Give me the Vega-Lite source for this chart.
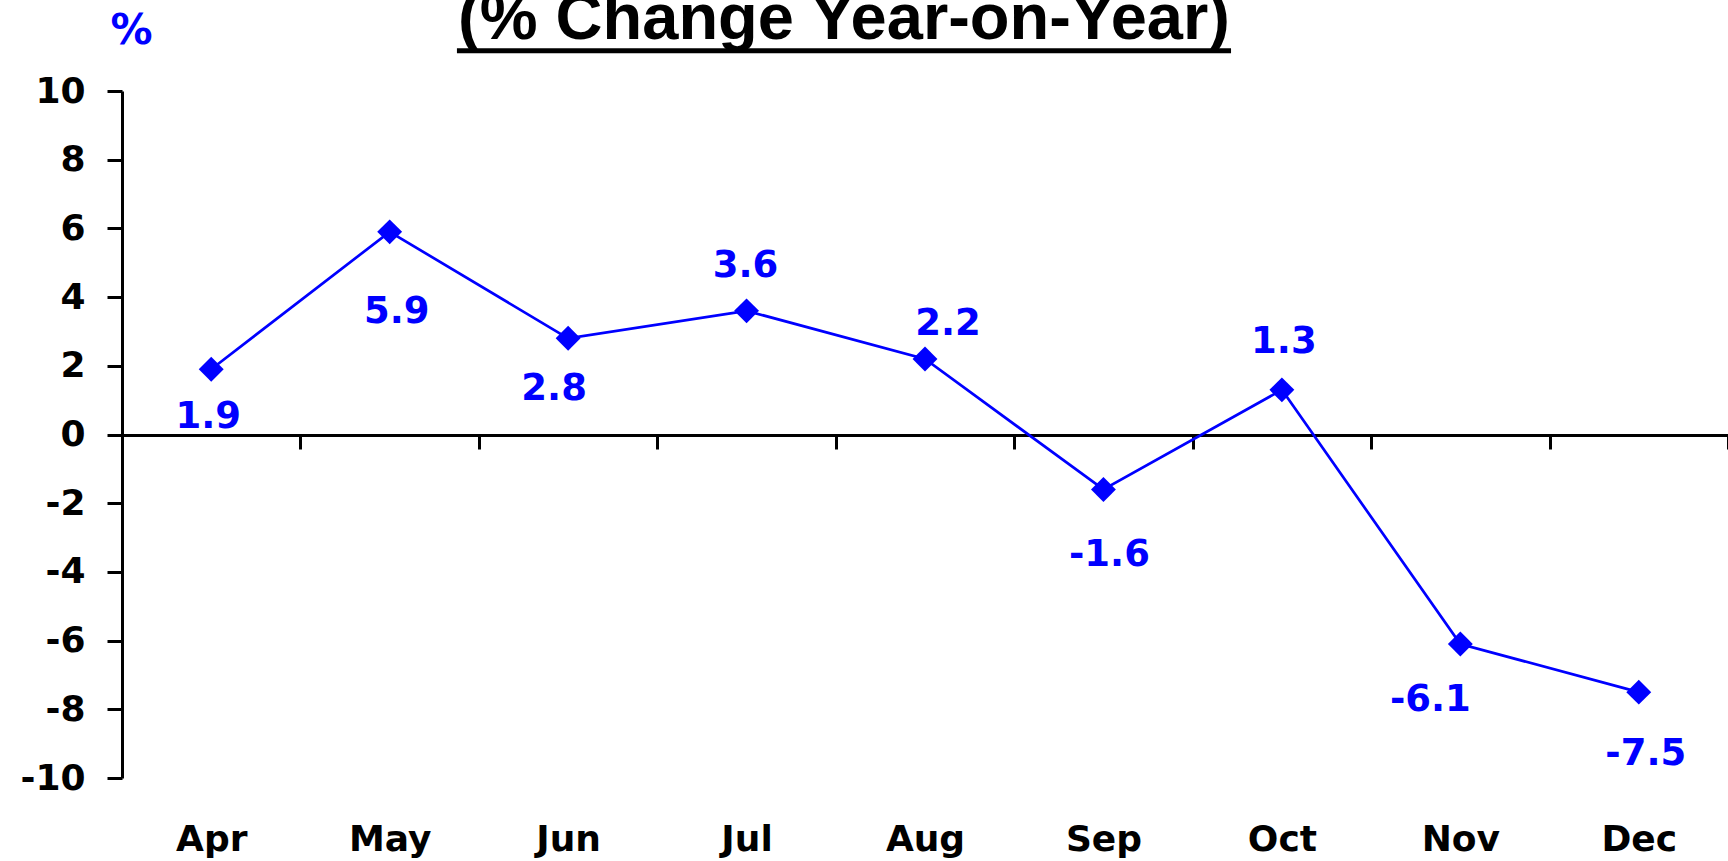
{
  "$schema": "https://vega.github.io/schema/vega-lite/v6.json",
  "width": 1606,
  "height": 687,
  "autosize": {"type": "none"},
  "padding": {"left": 122, "top": 91, "right": 0, "bottom": 83},
  "background": "white",
  "title": {
    "text": "(% Change Year-on-Year)",
    "font": "Liberation Sans",
    "fontSize": 65,
    "fontWeight": "bold",
    "color": "black",
    "anchor": "middle",
    "frame": "group",
    "baseline": "alphabetic",
    "dx": -81,
    "offset": -95
  },
  "layer": [
    {
      "data": {
        "values": [
          {"month": "Apr", "value": 1.9},
          {"month": "May", "value": 5.9},
          {"month": "Jun", "value": 2.8},
          {"month": "Jul", "value": 3.6},
          {"month": "Aug", "value": 2.2},
          {"month": "Sep", "value": -1.6},
          {"month": "Oct", "value": 1.3},
          {"month": "Nov", "value": -6.1},
          {"month": "Dec", "value": -7.5}
        ]
      },
      "encoding": {
        "x": {
          "field": "month",
          "type": "ordinal",
          "sort": null,
          "scale": {"paddingInner": 0, "paddingOuter": 0},
          "axis": {
            "title": null,
            "orient": "bottom",
            "offset": -343,
            "grid": false,
            "domainColor": "black",
            "domainWidth": 3,
            "tickBand": "extent",
            "tickColor": "black",
            "tickWidth": 3,
            "tickSize": 14,
            "labelFont": "DejaVu Sans",
            "labelFontSize": 36,
            "labelFontWeight": "bold",
            "labelColor": "black",
            "labelPadding": 401,
            "labelBaseline": "alphabetic",
            "labelAngle": 0
          }
        },
        "y": {
          "field": "value",
          "type": "quantitative",
          "scale": {"domain": [-10, 10], "nice": false, "zero": false},
          "axis": {
            "title": "%",
            "titleAngle": 0,
            "titleX": 9,
            "titleY": -48,
            "titleAlign": "center",
            "titleBaseline": "alphabetic",
            "titleFont": "DejaVu Sans",
            "titleFontSize": 42,
            "titleFontWeight": "bold",
            "titleColor": "#0000ff",
            "values": [-10, -8, -6, -4, -2, 0, 2, 4, 6, 8, 10],
            "grid": false,
            "domainColor": "black",
            "domainWidth": 3,
            "tickColor": "black",
            "tickWidth": 3,
            "tickSize": 15,
            "labelFont": "DejaVu Sans",
            "labelFontSize": 36,
            "labelFontWeight": "bold",
            "labelColor": "black",
            "labelPadding": 22
          }
        }
      },
      "layer": [
        {"mark": {"type": "line", "color": "#0000ff", "strokeWidth": 2.7}},
        {"mark": {"type": "point", "shape": "diamond", "filled": true, "size": 620, "color": "#0000ff", "opacity": 1}},
        {"transform": [{"filter": {"field": "month", "equal": "Apr"}}], "mark": {"type": "text", "dx": -3, "dy": 59}, "encoding": {"text": {"field": "value", "type": "quantitative", "format": ".1f"}}},
        {"transform": [{"filter": {"field": "month", "equal": "May"}}], "mark": {"type": "text", "dx": 7, "dy": 91}, "encoding": {"text": {"field": "value", "type": "quantitative", "format": ".1f"}}},
        {"transform": [{"filter": {"field": "month", "equal": "Jun"}}], "mark": {"type": "text", "dx": -14, "dy": 62}, "encoding": {"text": {"field": "value", "type": "quantitative", "format": ".1f"}}},
        {"transform": [{"filter": {"field": "month", "equal": "Jul"}}], "mark": {"type": "text", "dx": -1, "dy": -34}, "encoding": {"text": {"field": "value", "type": "quantitative", "format": ".1f"}}},
        {"transform": [{"filter": {"field": "month", "equal": "Aug"}}], "mark": {"type": "text", "dx": 23, "dy": -24}, "encoding": {"text": {"field": "value", "type": "quantitative", "format": ".1f"}}},
        {"transform": [{"filter": {"field": "month", "equal": "Sep"}}], "mark": {"type": "text", "dx": 6, "dy": 77}, "encoding": {"text": {"field": "value", "type": "quantitative", "format": ".1f"}}},
        {"transform": [{"filter": {"field": "month", "equal": "Oct"}}], "mark": {"type": "text", "dx": 2, "dy": -37}, "encoding": {"text": {"field": "value", "type": "quantitative", "format": ".1f"}}},
        {"transform": [{"filter": {"field": "month", "equal": "Nov"}}], "mark": {"type": "text", "dx": -30, "dy": 67}, "encoding": {"text": {"field": "value", "type": "quantitative", "format": ".1f"}}},
        {"transform": [{"filter": {"field": "month", "equal": "Dec"}}], "mark": {"type": "text", "dx": 7, "dy": 73}, "encoding": {"text": {"field": "value", "type": "quantitative", "format": ".1f"}}}
      ]
    },
    {
      "data": {"values": [{"note": "title underline"}]},
      "mark": {"type": "rule", "color": "black", "strokeWidth": 5, "clip": false},
      "encoding": {
        "x": {"datum": 1.877, "type": "quantitative", "scale": {"domain": [0, 9], "nice": false, "zero": false}, "axis": null},
        "x2": {"datum": 6.215},
        "y": {"datum": 11.17, "type": "quantitative"}
      }
    }
  ],
  "resolve": {"scale": {"x": "independent"}},
  "config": {
    "view": {"stroke": null},
    "locale": {"number": {"decimal": ".", "thousands": ",", "grouping": [3], "currency": ["$", ""], "minus": "-"}},
    "text": {"font": "DejaVu Sans", "fontSize": 37, "fontWeight": "bold", "color": "#0000ff", "baseline": "alphabetic", "align": "center"}
  }
}
